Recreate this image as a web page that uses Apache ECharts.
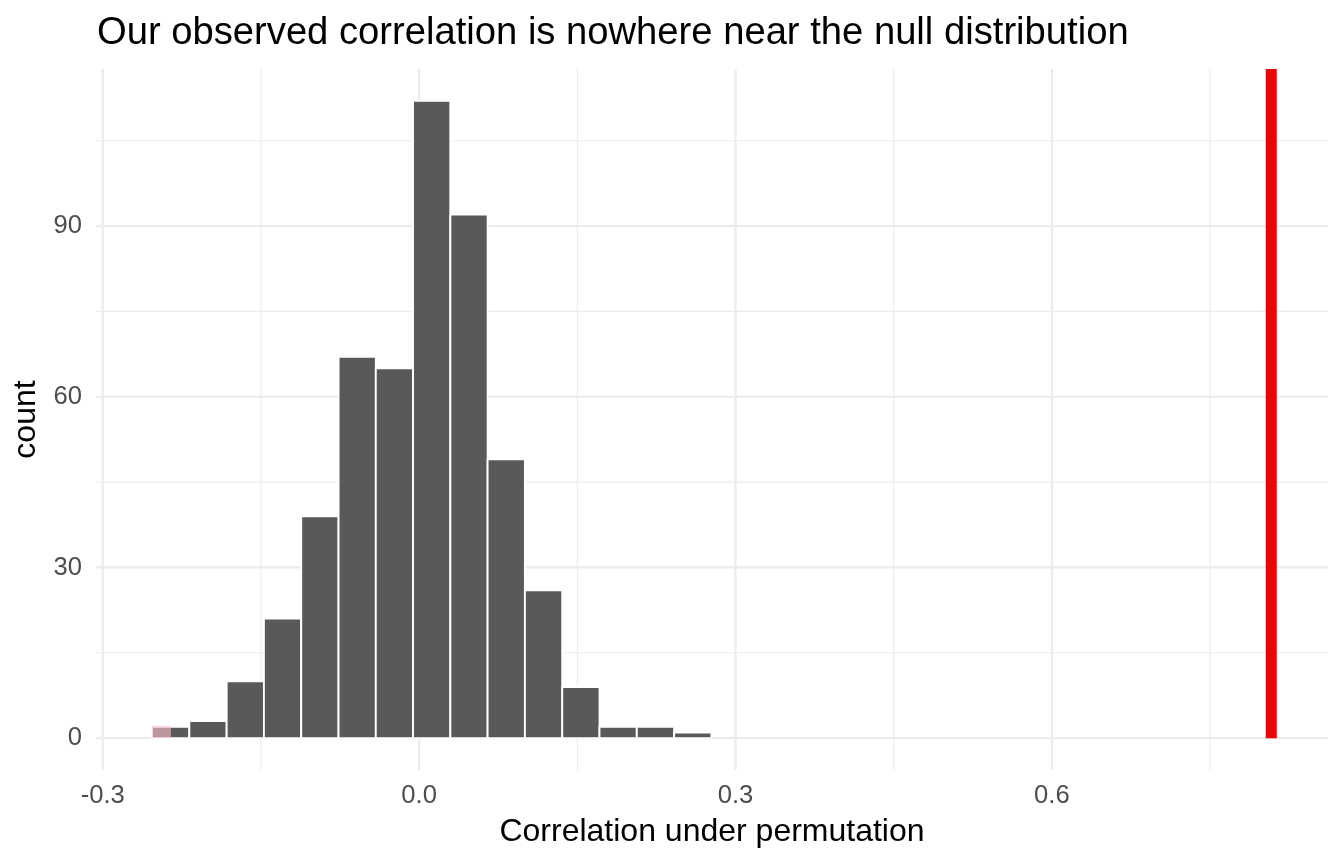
<!DOCTYPE html>
<html>
<head>
<meta charset="utf-8">
<script src="https://cdn.jsdelivr.net/npm/echarts@6/dist/echarts.min.js"></script>
<style>
html,body{margin:0;padding:0;background:#fff;}
#chart{width:1344px;height:864px;}
</style>
</head>
<body>
<div id="chart"></div>
<script>
// ---- data ----
const binStarts = [-0.2533, -0.2179, -0.1825, -0.1472, -0.1118, -0.0764, -0.0411, -0.0058, 0.0296, 0.0649, 0.1003, 0.1357, 0.1710, 0.2064, 0.2418];
const binWidth = 0.03537;
const counts = [2, 3, 10, 21, 39, 67, 65, 112, 92, 49, 26, 9, 2, 2, 1];
const obsStat = 0.808;
const shadeRange = [-0.2533, -0.2353];
const shadeCount = 2;
const xMajor = [-0.3, 0.0, 0.3, 0.6];
const xMinor = [-0.15, 0.15, 0.45, 0.75];
const yMajor = [0, 30, 60, 90];
const yMinor = [15, 45, 75, 105];
const xLimits = [-0.3064, 0.8618];
const yLimits = [-5.6, 117.6];

const FONT = '"Liberation Sans", Arial, Helvetica, sans-serif';
const GRID = '#EBEBEB';

const chart = echarts.init(document.getElementById('chart'), null, {renderer: 'canvas'});

function vLines(vals, width) {
  return {
    type: 'custom', z: 1, silent: true,
    data: vals.map(v => [v, 0]),
    renderItem: (params, api) => {
      const x = api.coord([api.value(0), 0])[0];
      const cs = params.coordSys;
      return {type: 'line', shape: {x1: x, y1: cs.y, x2: x, y2: cs.y + cs.height},
              style: {stroke: GRID, lineWidth: width}};
    }
  };
}
function hLines(vals, width) {
  return {
    type: 'custom', z: 1, silent: true,
    data: vals.map(v => [0, v]),
    renderItem: (params, api) => {
      const y = api.coord([0, api.value(1)])[1];
      const cs = params.coordSys;
      return {type: 'line', shape: {x1: cs.x, y1: y, x2: cs.x + cs.width, y2: y},
              style: {stroke: GRID, lineWidth: width}};
    }
  };
}

const barData = binStarts.map((s, i) => [s, s + binWidth, counts[i]]);

const option = {
  animation: false,
  backgroundColor: '#fff',
  title: {
    text: 'Our observed correlation is nowhere near the null distribution',
    left: 92, top: 9,
    textStyle: {fontFamily: FONT, fontSize: 38.2, fontWeight: 'normal', color: '#000'}
  },
  grid: {left: 96, right: 16, top: 69, bottom: 94, containLabel: false, outerBoundsMode: 'none'},
  xAxis: {
    type: 'value', min: xLimits[0], max: xLimits[1],
    name: 'Correlation under permutation', nameLocation: 'middle', nameGap: 46,
    nameTextStyle: {fontFamily: FONT, fontSize: 32, color: '#000'},
    axisLine: {show: false}, axisTick: {show: false}, splitLine: {show: false},
    axisLabel: {
      customValues: xMajor,
      formatter: v => v.toFixed(1),
      fontFamily: FONT, fontSize: 25.6, color: '#4D4D4D', margin: 13
    }
  },
  yAxis: {
    type: 'value', min: yLimits[0], max: yLimits[1],
    name: 'count', nameLocation: 'middle', nameGap: 51, nameRotate: 90,
    nameTextStyle: {fontFamily: FONT, fontSize: 32, color: '#000'},
    axisLine: {show: false}, axisTick: {show: false}, splitLine: {show: false},
    axisLabel: {
      customValues: yMajor,
      formatter: v => String(v),
      fontFamily: FONT, fontSize: 25.6, color: '#4D4D4D', margin: 14
    }
  },
  series: [
    vLines(xMinor, 1.1),
    hLines(yMinor, 1.1),
    vLines(xMajor, 2.2),
    hLines(yMajor, 2.2),
    {
      type: 'custom', z: 3, name: 'null',
      data: barData,
      encode: {x: [0, 1], y: 2},
      renderItem: (params, api) => {
        const p0 = api.coord([api.value(0), 0]);
        const p1 = api.coord([api.value(1), api.value(2)]);
        return {type: 'rect',
          shape: {x: p0[0], y: p1[1], width: p1[0] - p0[0], height: p0[1] - p1[1]},
          style: {fill: '#595959', stroke: '#FFFFFF', lineWidth: 1.9}};
      }
    },
    {
      type: 'custom', z: 4, name: 'shade',
      data: [[shadeRange[0], shadeRange[1], shadeCount]],
      encode: {x: [0, 1], y: 2},
      renderItem: (params, api) => {
        const p0 = api.coord([api.value(0), 0]);
        const p1 = api.coord([api.value(1), api.value(2)]);
        return {type: 'rect',
          shape: {x: p0[0], y: p1[1] - 1, width: p1[0] - p0[0], height: p0[1] - p1[1] + 1},
          style: {fill: 'rgba(255,192,203,0.6)'}};
      }
    },
    {
      type: 'custom', z: 5, name: 'observed',
      data: [[obsStat, 0]],
      renderItem: (params, api) => {
        const p = api.coord([api.value(0), api.value(1)]);
        const cs = params.coordSys;
        return {type: 'line', shape: {x1: p[0], y1: p[1], x2: p[0], y2: cs.y},
                style: {stroke: '#EE0000', lineWidth: 11}};
      }
    }
  ]
};
chart.setOption(option);
</script>
</body>
</html>
